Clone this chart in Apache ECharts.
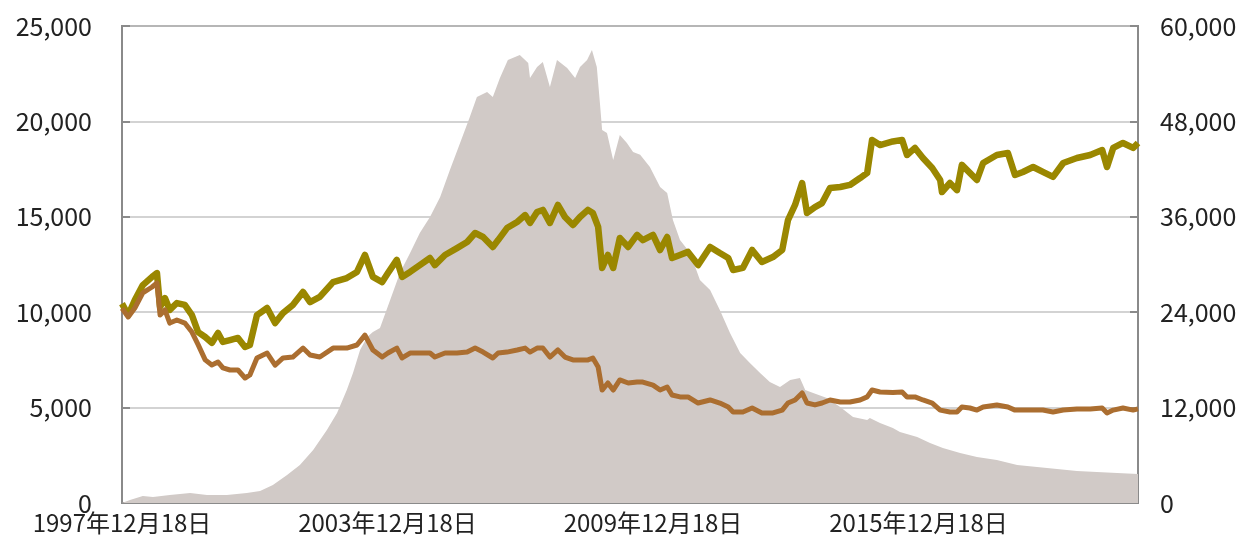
<!DOCTYPE html>
<html>
<head>
<meta charset="utf-8">
<script src="https://cdn.jsdelivr.net/npm/echarts@6/dist/echarts.min.js"></script>
<style>
  html, body { margin: 0; padding: 0; background: #fff; }
  #chart { width: 1245px; height: 546px; }
</style>
</head>
<body>
<div id="chart"></div>
<script>
// x values are years after 1997-12-18
var startYear = 1997;
var tickYears = [0, 6, 12, 18];

var lineYears = [0.00, 0.14, 0.29, 0.47, 0.68, 0.79, 0.86, 0.97, 1.08, 1.24, 1.42, 1.58, 1.72, 1.88, 2.03, 2.17, 2.28, 2.44, 2.62, 2.78,
  2.89, 3.05, 3.28, 3.46, 3.64, 3.86, 4.09, 4.25, 4.47, 4.77, 5.08, 5.31, 5.49, 5.67, 5.88, 6.01, 6.21, 6.33, 6.51, 6.73,
  6.96, 7.07, 7.30, 7.57, 7.80, 7.98, 8.16, 8.38, 8.50, 8.70, 8.93, 9.11, 9.22, 9.38, 9.51, 9.67, 9.85, 10.01, 10.19, 10.35,
  10.53, 10.64, 10.76, 10.85, 10.98, 11.10, 11.25, 11.44, 11.64, 11.77, 12.00, 12.16, 12.32, 12.43, 12.61, 12.79, 13.02, 13.29, 13.51, 13.70,
  13.81, 14.03, 14.24, 14.46, 14.71, 14.92, 15.05, 15.21, 15.37, 15.48, 15.66, 15.82, 16.00, 16.23, 16.45, 16.68, 16.84, 16.95, 17.13, 17.42,
  17.63, 17.74, 17.92, 18.10, 18.31, 18.49, 18.53, 18.71, 18.87, 18.98, 19.16, 19.32, 19.46, 19.77, 20.02, 20.18, 20.36, 20.59, 20.81, 21.04,
  21.27, 21.58, 21.88, 22.15, 22.26, 22.40, 22.62, 22.85, 22.96];

var olivePrice = [10450, 9850, 10640, 11420, 11850, 12050, 10270, 10740, 10120, 10480, 10380, 9850, 8960, 8700, 8390, 8910, 8440, 8540, 8650, 8180,
  8280, 9850, 10220, 9430, 9960, 10380, 11060, 10530, 10800, 11580, 11790, 12110, 13000, 11850, 11580, 12050, 12740, 11850, 12110, 12470,
  12840, 12470, 13000, 13360, 13680, 14150, 13940, 13420, 13780, 14410, 14730, 15090, 14680, 15250, 15360, 14680, 15620, 14990, 14570, 14990,
  15360, 15200, 14470, 12320, 13000, 12320, 13890, 13420, 14050, 13780, 14050, 13260, 13940, 12840, 13000, 13160, 12470, 13420, 13100, 12840,
  12210, 12320, 13260, 12630, 12890, 13260, 14830, 15620, 16770, 15200, 15510, 15720, 16510, 16560, 16670, 17030, 17300, 19030, 18760, 18950,
  19030, 18240, 18610, 18080, 17560, 16930, 16300, 16770, 16400, 17720, 17300, 16930, 17820, 18240, 18340, 17190, 17350, 17610, 17350, 17090,
  17820, 18080, 18240, 18500, 17610, 18610, 18870, 18610, 18870];

var brownPrice = [10200, 9750, 10220, 11010, 11320, 11530, 9850, 10120, 9430, 9590, 9430, 8960, 8300, 7500, 7230, 7390, 7080, 6970, 6970, 6550,
  6710, 7600, 7860, 7230, 7600, 7650, 8120, 7760, 7650, 8120, 8120, 8280, 8800, 8020, 7650, 7860, 8120, 7600, 7860, 7860,
  7860, 7650, 7860, 7860, 7910, 8120, 7910, 7600, 7860, 7910, 8020, 8120, 7910, 8120, 8120, 7650, 8020, 7650, 7500, 7500,
  7500, 7600, 7130, 5920, 6290, 5920, 6450, 6290, 6340, 6340, 6180, 5920, 6080, 5660, 5560, 5560, 5240, 5400, 5240, 5030,
  4770, 4770, 4980, 4720, 4720, 4870, 5240, 5400, 5770, 5240, 5140, 5240, 5400, 5290, 5290, 5400, 5560, 5920, 5820, 5790,
  5820, 5560, 5560, 5400, 5240, 4870, 4770, 4770, 4770, 5030, 4980, 4870, 5030, 5140, 5030, 4870, 4870, 4870, 4870, 4770,
  4870, 4930, 4930, 4980, 4720, 4870, 4980, 4870, 4930];

var areaYears = [0.00, 0.18, 0.47, 0.70, 1.08, 1.54, 1.92, 2.37, 2.82, 3.12, 3.41, 3.73, 4.02, 4.32, 4.63, 4.86, 5.08, 5.22, 5.38, 5.54,
  5.67, 5.83, 6.06, 6.28, 6.51, 6.73, 6.96, 7.19, 7.41, 7.64, 7.86, 8.02, 8.25, 8.38, 8.54, 8.72, 8.99, 9.18, 9.22, 9.38,
  9.51, 9.67, 9.83, 10.06, 10.24, 10.35, 10.51, 10.62, 10.73, 10.80, 10.85, 10.96, 11.10, 11.25, 11.41, 11.55, 11.71, 11.93, 12.16, 12.32,
  12.45, 12.61, 12.84, 13.06, 13.29, 13.51, 13.74, 13.97, 14.19, 14.42, 14.64, 14.87, 15.10, 15.32, 15.44, 15.62, 15.93, 16.23, 16.52, 16.84,
  16.90, 17.13, 17.42, 17.58, 17.97, 18.26, 18.55, 18.94, 19.32, 19.77, 20.23, 20.68, 21.13, 21.58, 22.03, 22.49, 22.96];

var netAssets = [0, 380, 880, 760, 1010, 1260, 1010, 1010, 1260, 1510, 2260, 3520, 4780, 6670, 9180, 11320, 14210, 16350, 19250, 20880,
  21510, 22010, 25540, 28930, 31450, 33960, 35980, 38490, 41890, 45280, 48560, 51070, 51700, 51070, 53460, 55730, 56350, 55350, 53460, 54850,
  55470, 52330, 55730, 54720, 53460, 54850, 55730, 56980, 54850, 50320, 46920, 46540, 43150, 46290, 45280, 44150, 43800, 42270, 39750, 39000,
  35600, 33080, 31450, 28050, 26790, 24280, 21380, 18870, 17610, 16350, 15220, 14590, 15470, 15720, 14210, 13840, 13210, 12080, 10820, 10440,
  10690, 10060, 9430, 8930, 8300, 7550, 6920, 6290, 5790, 5410, 4780, 4530, 4280, 4030, 3900, 3770, 3650];

function pairs(xs, ys) {
  var out = [];
  for (var i = 0; i < xs.length; i++) {
    out.push([xs[i], ys[i]]);
  }
  return out;
}

var textFont = "'Noto Sans CJK JP', 'Noto Sans', sans-serif";
var axisGray = '#8a8a8a';

var chart = echarts.init(document.getElementById('chart'));
var option = {
  animation: false,
  grid: {
    left: 122, right: 107, top: 26, bottom: 43,
    show: true,
    borderColor: axisGray,
    borderWidth: 2
  },
  xAxis: {
    type: 'value',
    min: 0,
    max: 22.96,
    interval: 6,
    axisLine: { show: true, lineStyle: { color: axisGray, width: 2 } },
    axisTick: { show: true, inside: true, length: 8, lineStyle: { color: axisGray, width: 2 } },
    splitLine: { show: false },
    axisLabel: {
      showMaxLabel: false,
      color: '#222',
      fontSize: 24,
      fontFamily: textFont,
      margin: 8,
      formatter: function (v) {
        if (tickYears.indexOf(v) < 0) return '';
        return (startYear + v) + '年12月18日';
      }
    }
  },
  yAxis: [
    {
      type: 'value',
      min: 0,
      max: 25000,
      interval: 5000,
      axisLine: { show: true, lineStyle: { color: axisGray, width: 2 } },
      axisTick: { show: true, inside: true, length: 8, lineStyle: { color: axisGray, width: 2 } },
      splitLine: { show: true, lineStyle: { color: '#c4c4c4', width: 1.5 } },
      axisLabel: {
        color: '#222',
        fontSize: 25,
        fontFamily: textFont,
        margin: 30,
        formatter: function (v) { return v.toLocaleString('en-US'); }
      }
    },
    {
      type: 'value',
      min: 0,
      max: 60000,
      interval: 12000,
      axisLine: { show: true, lineStyle: { color: axisGray, width: 2 } },
      axisTick: { show: true, inside: true, length: 8, lineStyle: { color: axisGray, width: 2 } },
      splitLine: { show: false },
      axisLabel: {
        color: '#222',
        fontSize: 25,
        fontFamily: textFont,
        margin: 22,
        formatter: function (v) { return v.toLocaleString('en-US'); }
      }
    }
  ],
  series: [
    {
      name: 'netAssets',
      type: 'line',
      yAxisIndex: 1,
      showSymbol: false,
      data: pairs(areaYears, netAssets),
      lineStyle: { width: 0 },
      areaStyle: { color: '#d1cac7', opacity: 1 },
      z: 1
    },
    {
      name: 'olive',
      type: 'line',
      yAxisIndex: 0,
      showSymbol: false,
      data: pairs(lineYears, olivePrice),
      lineStyle: { color: '#9a8700', width: 6.5, join: 'round' },
      z: 3
    },
    {
      name: 'brown',
      type: 'line',
      yAxisIndex: 0,
      showSymbol: false,
      data: pairs(lineYears, brownPrice),
      lineStyle: { color: '#ab6e30', width: 5, join: 'round' },
      z: 4
    }
  ]
};
chart.setOption(option);
</script>
</body>
</html>
